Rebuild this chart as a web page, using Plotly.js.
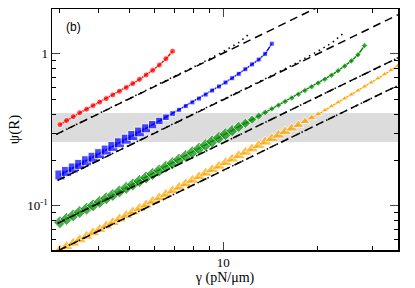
<!DOCTYPE html>
<html>
<head>
<meta charset="utf-8">
<script src="https://cdn.plot.ly/plotly-3.0.1.min.js"></script>
<style>html,body{margin:0;padding:0;background:#fff;}#plot{width:415px;height:288px;}</style>
</head>
<body>
<div id="plot"></div>
<script>
// gamma (pN/um) sampling
const gamma = [3.00, 3.15, 3.31, 3.47, 3.65, 3.83, 4.02, 4.22, 4.43, 4.65, 4.89, 5.13, 5.39, 5.66, 5.94, 6.24, 6.55, 6.88, 7.22, 7.58, 7.96, 8.36, 8.78, 9.21, 9.68, 10.16, 10.67, 11.20, 11.76, 12.35, 12.97, 13.61, 14.29, 15.01, 15.76, 16.55, 17.38, 18.24, 19.16, 20.11, 21.12, 22.18, 23.29, 24.45, 25.67, 26.96, 28.30, 29.72, 31.21, 32.77, 34.40, 36.12, 37.93];

const psiRed = [0.342,0.364,0.386,0.409,0.432,0.456,0.481,0.507,0.536,0.567,0.600,0.637,0.679,0.726,0.779,0.843,0.927,1.040];
const psiBlue = [0.1595,0.1683,0.1774,0.1872,0.1978,0.2086,0.2203,0.2327,0.2459,0.2597,0.2743,0.2898,0.3061,0.3234,0.3417,0.3614,0.3824,0.4045,0.4280,0.4528,0.4791,0.5076,0.5394,0.5733,0.6093,0.6475,0.6903,0.7380,0.7914,0.8514,0.9158,0.9986,1.165];
const psiGreen = [0.0780,0.0820,0.0864,0.0910,0.0957,0.1007,0.1061,0.1120,0.1178,0.1243,0.1312,0.1381,0.1457,0.1535,0.1620,0.1710,0.1806,0.1908,0.2015,0.2129,0.2249,0.2376,0.2510,0.2651,0.2801,0.2958,0.3125,0.3302,0.3488,0.3684,0.3893,0.4113,0.4345,0.4590,0.4850,0.5122,0.5413,0.5726,0.6060,0.6413,0.6795,0.7233,0.7733,0.8294,0.8975,0.9847,1.1320];
const psiOrange = [0.0513,0.0540,0.0568,0.0598,0.0630,0.0664,0.0699,0.0737,0.0776,0.0819,0.0864,0.0911,0.0961,0.1014,0.1069,0.1128,0.1190,0.1255,0.1324,0.1396,0.1472,0.1553,0.1638,0.1728,0.1823,0.1922,0.2028,0.2135,0.2249,0.2368,0.2495,0.2627,0.2767,0.2914,0.3069,0.3232,0.3404,0.3590,0.3793,0.4013,0.4252,0.4511,0.4787,0.5079,0.5390,0.5729,0.6089,0.6471,0.6888,0.7331,0.7803,0.8319,0.8870];

// linear (psi ~ gamma) reference lines, endpoints
const dashRedG = [2.92, 21.0],  dashRedP = [0.295, 2.12];
const dashBlueG = [2.95, 40.0], dashBlueP = [0.147, 1.996];
const dashGreenG = [2.95, 40.0], dashGreenP = [0.0767, 1.04];
const dashOrangeG = [2.98, 40.0], dashOrangeP = [0.0510, 0.684];
// dotted curves
const dotRedG = [2.92, 5.0, 7.0, 8.5, 10.0, 11.2, 12.2];
const dotRedP = [0.295, 0.506, 0.712, 0.868, 1.035, 1.185, 1.37];
const dotBlueG = [2.95, 8.0, 14.0, 17.0, 20.0, 22.3, 24.3];
const dotBlueP = [0.147, 0.40, 0.705, 0.865, 1.035, 1.185, 1.37];
const dotGreenG = [2.95, 40.0], dotGreenP = [0.0767, 1.04];
const dotOrangeG = [2.98, 40.0], dotOrangeP = [0.0510, 0.684];

// shaded band
const bandLow = 0.263, bandHigh = 0.408;
const bandG = [2.0, 50.0];

const xTickVals = [10], xTickText = ['10'];
const xMinor = [3, 4, 5, 6, 7, 8, 9, 20, 30];
const yTickVals = [0.1, 1], yTickText = ['10<sup>-1</sup>', '1'];
const yMinor = [0.06, 0.07, 0.08, 0.09, 0.2, 0.3, 0.4, 0.5, 0.6, 0.7, 0.8, 0.9];

function sizes(psi, big, small) {
  return psi.map(p => p <= 0.3 ? big : (p >= 0.42 ? small : big - (big - small) * (p - 0.3) / 0.12));
}

const traces = [];
traces.push({x: [bandG[0], bandG[1], bandG[1], bandG[0]], y: [bandLow, bandLow, bandHigh, bandHigh],
  fill: 'toself', fillcolor: '#dcdcdc', line: {width: 0}, mode: 'lines', hoverinfo: 'skip'});

function series(psi, color, symbol, big, small) {
  return {x: gamma.slice(0, psi.length), y: psi, mode: 'lines+markers',
    line: {color: color, width: 1.5},
    marker: {color: color, symbol: symbol, size: sizes(psi, big, small)}};
}
traces.push(series(psiRed, '#ff0000', 'circle', 6, 6));
traces.push(series(psiBlue, '#0000ff', 'square', 10, 5));
traces.push(series(psiGreen, '#008a00', 'diamond', 10, 5));
traces.push(series(psiOrange, '#ffa500', 'triangle-up', 12, 6));

function ref(g, p, dash) {
  return {x: g, y: p, mode: 'lines', line: {color: 'black', width: 1.5, dash: dash}, hoverinfo: 'skip'};
}
const longDash = '8px,5px', dotted = '1.5px,4px';
traces.push(ref(dashRedG, dashRedP, longDash));
traces.push(ref(dashBlueG, dashBlueP, longDash));
traces.push(ref(dashGreenG, dashGreenP, longDash));
traces.push(ref(dashOrangeG, dashOrangeP, longDash));
traces.push(ref(dotRedG, dotRedP, dotted));
traces.push(ref(dotBlueG, dotBlueP, dotted));
traces.push(ref(dotGreenG, dotGreenP, dotted));
traces.push(ref(dotOrangeG, dotOrangeP, dotted));

const serif = 'Liberation Serif, Times New Roman, serif';
const layout = {
  width: 415, height: 288,
  margin: {l: 52, r: 17, t: 9, b: 38},
  showlegend: false,
  paper_bgcolor: '#fff', plot_bgcolor: '#fff',
  font: {family: serif, size: 13, color: '#000'},
  xaxis: {type: 'log', range: [Math.log10(2.83), Math.log10(36.2)],
    tickvals: xTickVals, ticktext: xTickText, ticks: 'inside', ticklen: 8, tickwidth: 1,
    minor: {tickvals: xMinor, ticks: 'inside', ticklen: 4, tickwidth: 1, tickcolor: '#000', showgrid: false},
    showline: true, linewidth: 1.5, linecolor: '#000', mirror: 'ticks', showgrid: false, zeroline: false,
    tickfont: {family: serif, size: 13},
    title: {text: 'γ (pN/μm)', font: {family: serif, size: 14}, standoff: 3}},
  yaxis: {type: 'log', range: [Math.log10(0.0512), Math.log10(1.97)],
    tickvals: yTickVals, ticktext: yTickText, ticks: 'inside', ticklen: 8, tickwidth: 1,
    minor: {tickvals: yMinor, ticks: 'inside', ticklen: 4, tickwidth: 1, tickcolor: '#000', showgrid: false},
    showline: true, linewidth: 1.5, linecolor: '#000', mirror: 'ticks', showgrid: false, zeroline: false,
    tickfont: {family: serif, size: 13},
    title: {text: 'ψ(R)', font: {family: serif, size: 15}, standoff: 4}},
  annotations: [{text: '(b)', xref: 'paper', yref: 'paper', x: 0.035, y: 0.925,
    xanchor: 'left', yanchor: 'middle', showarrow: false,
    font: {family: 'Liberation Sans, Arial, sans-serif', size: 12, color: '#000'}}]
};
Plotly.newPlot('plot', traces, layout, {staticPlot: true, displayModeBar: false});
</script>
</body>
</html>
